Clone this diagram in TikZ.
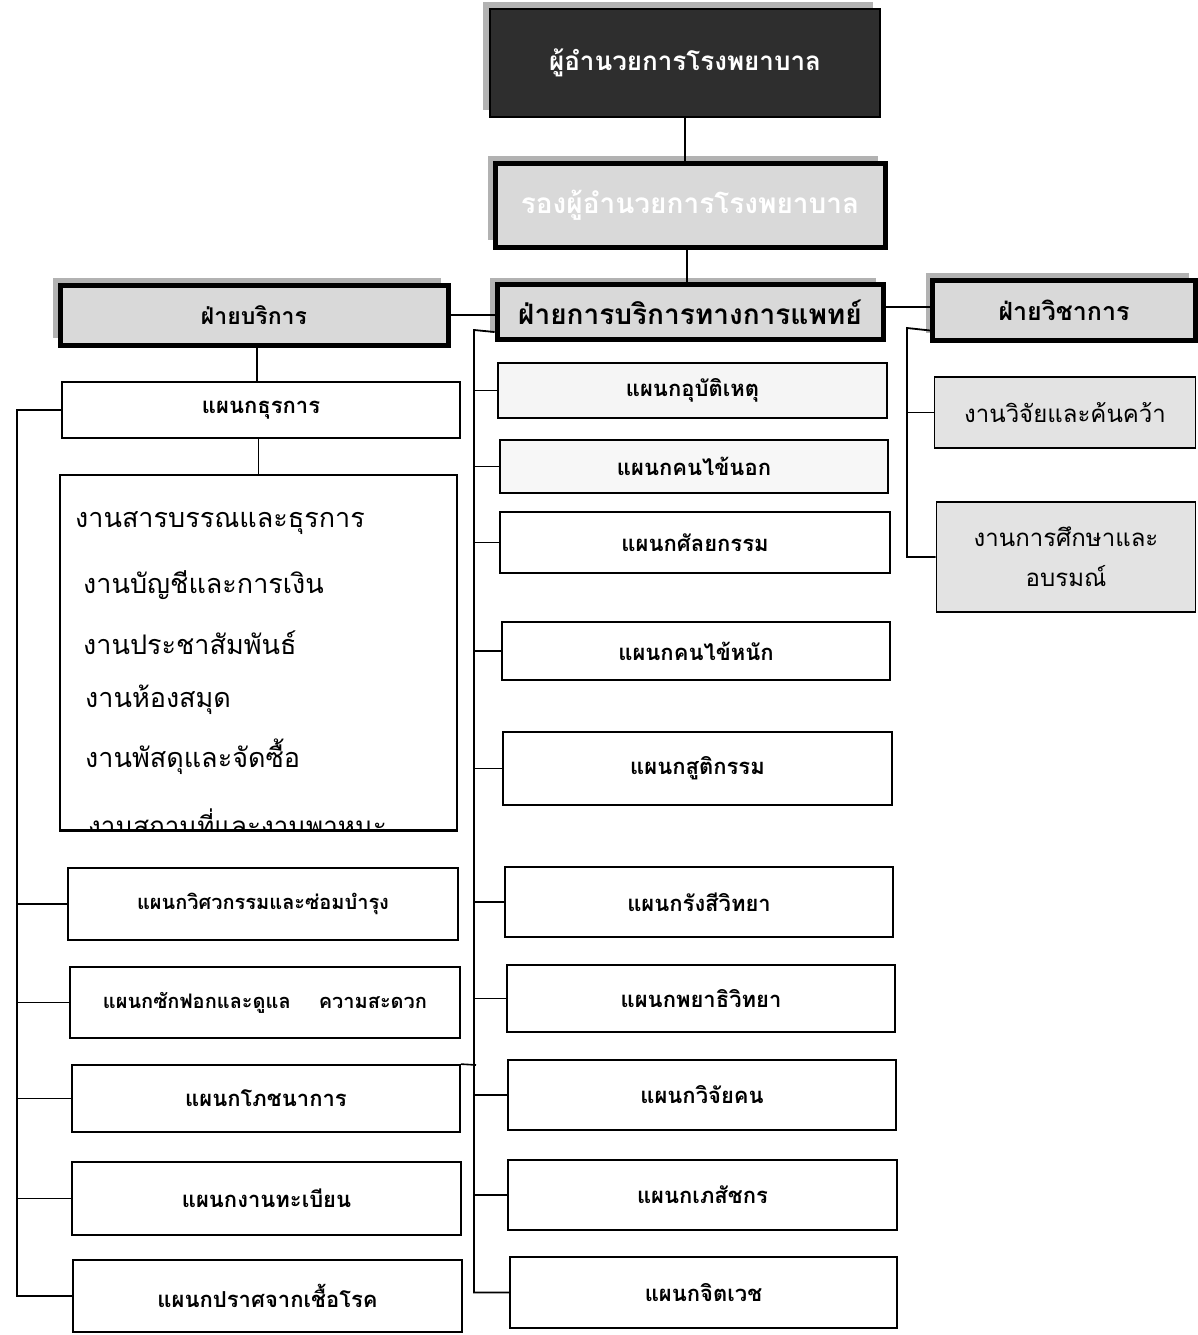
\documentclass[tikz,border=0pt]{standalone}
\usepackage{fontspec}
\newfontfamily\thai[Script=Thai]{Loma}
\usetikzlibrary{shadows}
\begin{document}
\begin{tikzpicture}[x=1pt,y=-1pt,
  conn/.style={draw, line width=1.8pt},
  box/.style={draw, line width=1.8pt, fill=white, inner sep=0pt,
    font=\thai\bfseries\fontsize{22}{26}\selectfont},
  graybox/.style={box, fill=gray!22, font=\thai\fontsize{24}{40}\selectfont, align=center},
  hdr/.style={draw, line width=5pt, fill=gray!30, inner sep=0pt,
    drop shadow={shadow xshift=-7pt, shadow yshift=7pt, fill=gray!60, opacity=1},
    font=\thai\bfseries\fontsize{23}{27}\selectfont},
  topbox/.style={hdr, fill=black!82, line width=2pt, text=white,
    font=\thai\bfseries\fontsize{26}{30}\selectfont},
  listtext/.style={anchor=west, inner sep=0pt, font=\thai\fontsize{27}{31}\selectfont}
]
\useasboundingbox (0,0) rectangle (1198,1335);
\fill[white] (0,0) rectangle (1198,1335);

% top levels
\node[topbox, minimum width=390, minimum height=108] (dir) at (685,63) {ผู้อำนวยการโรงพยาบาล};
\node[hdr, text=white, minimum width=390, minimum height=84,
  font=\thai\bfseries\fontsize{28}{32}\selectfont] (dep) at (690,205) {รองผู้อำนวยการโรงพยาบาล};

\node[hdr, minimum width=388, minimum height=60] (svc) at (254,315) {ฝ่ายบริการ};
\node[hdr, minimum width=386, minimum height=55,
  font=\thai\bfseries\fontsize{28}{32}\selectfont] (med) at (690,312) {ฝ่ายการบริการทางการแพทย์};
\node[hdr, minimum width=263, minimum height=60,
  font=\thai\bfseries\fontsize{25}{29}\selectfont] (acad) at (1064,310) {ฝ่ายวิชาการ};

% left column
\node[box, minimum width=398, minimum height=56] (thu) at (261,410) {แผนกธุรการ};
\node[box, minimum width=397, minimum height=355] (list) at (258.5,652.5) {};
\node[listtext] (l1) at (75,523) {งานสารบรรณและธุรการ};
\node[listtext] (l2) at (83,585) {งานบัญชีและการเงิน};
\node[listtext] (l3) at (83,643) {งานประชาสัมพันธ์};
\node[listtext] (l4) at (85,700) {งานห้องสมุด};
\node[listtext] (l5) at (85,757) {งานพัสดุและจัดซื้อ};
\begin{scope}
\clip (list.north west) rectangle ([yshift=1pt]list.south east);
\node[listtext, font=\thai\fontsize{26}{30}\selectfont] (l6) at (88,822) {งานสถานที่และงานพาหนะ};
\end{scope}
\draw[line width=1.8pt] (list.south west) -- (list.south east);

\node[box, minimum width=390, minimum height=72, font=\thai\bfseries\fontsize{20}{24}\selectfont] (eng) at (263,904) {แผนกวิศวกรรมและซ่อมบำรุง};
\node[box, minimum width=390, minimum height=71, font=\thai\bfseries\fontsize{20}{24}\selectfont] (laund) at (265,1002.5) {แผนกซักฟอกและดูแล\hspace{1.4em}ความสะดวก};
\node[box, minimum width=388, minimum height=67] (nutr) at (266,1098.5) {แผนกโภชนาการ};
\node[box, minimum width=389, minimum height=73] (reg) at (266.5,1198.5) {แผนกงานทะเบียน};
\node[box, minimum width=389, minimum height=72] (ster) at (267.5,1296) {แผนกปราศจากเชื้อโรค};

% middle column
\node[box, fill=gray!8, minimum width=389, minimum height=55] (acc) at (692.5,390.5) {แผนกอุบัติเหตุ};
\node[box, fill=gray!6, minimum width=388, minimum height=53] (opd) at (694,466.5) {แผนกคนไข้นอก};
\node[box, minimum width=390, minimum height=61] (surg) at (695,542.5) {แผนกศัลยกรรม};
\node[box, minimum width=388, minimum height=58] (icu) at (696,651) {แผนกคนไข้หนัก};
\node[box, minimum width=389, minimum height=73] (obs) at (697.5,768.5) {แผนกสูติกรรม};
\node[box, minimum width=388, minimum height=70] (rad) at (699,902) {แผนกรังสีวิทยา};
\node[box, minimum width=388, minimum height=67] (path) at (701,998.5) {แผนกพยาธิวิทยา};
\node[box, minimum width=388, minimum height=70] (rsc) at (702,1095) {แผนกวิจัยคน};
\node[box, minimum width=389, minimum height=70] (pharm) at (702.5,1195) {แผนกเภสัชกร};
\node[box, minimum width=387, minimum height=71] (psy) at (703.5,1292.5) {แผนกจิตเวช};

% right column
\node[graybox, minimum width=261, minimum height=71] (rs) at (1065,412.5) {งานวิจัยและค้นคว้า};
\node[graybox, minimum width=259, minimum height=110] (edu) at (1066,557) {งานการศึกษาและ\\อบรมณ์};

% connectors top
\draw[conn] (dir.south) -- (dir.south |- dep.north);
\draw[conn] ([xshift=-3pt]dep.south) -- ([xshift=-3pt]dep.south |- med.north);
\draw[conn] (svc.east) -- (svc.east -| med.west);
\draw[conn] ([yshift=5pt]med.east) -- ([yshift=5pt]med.east -| acad.west);

% left tree
\coordinate (lbus) at (17,403);
\draw[conn] ([xshift=3pt]svc.south) -- ([xshift=3pt]svc.south |- thu.north);
\draw[conn] (list.north) -- (list.north |- thu.south);
\draw[conn] (thu.west) -- (thu.west -| lbus) -- (ster.west -| lbus) -- (ster.west);
\foreach \n in {eng,laund,nutr,reg} \draw[conn] (\n.west) -- (\n.west -| lbus);
\coordinate (nx) at (476,1065);
\draw[line width=1.6pt] (nutr.north east) -- (nx);

% middle tree
\coordinate (mbus) at (474,330);
\draw[conn] ([yshift=10pt]med.south west) -- (mbus) -- (mbus |- psy.west) -- (psy.west);
\foreach \n in {acc,opd,surg,icu,obs,rad,path,rsc,pharm} \draw[conn] (\n.west) -- (\n.west -| mbus);

% right tree
\coordinate (rbus) at (907,328);
\draw[conn] ([yshift=12pt]acad.south west) -- (rbus) -- (rbus |- edu.west) -- (edu.west);
\draw[conn] (rs.west) -- (rs.west -| rbus);
\end{tikzpicture}
\end{document}
